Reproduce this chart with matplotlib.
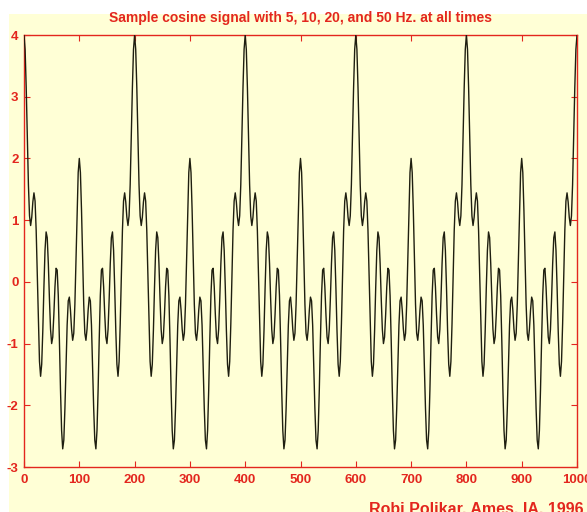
"""
Sample cosine signal (5, 10, 20 and 50 Hz) — MATLAB-style yellow figure.
One 200-sample period is symmetric, so only its first half is listed
(every 2nd sample, read off the chart) and the rest is mirrored/repeated.
"""
import numpy as np
import matplotlib
matplotlib.use("Agg")
import matplotlib.pyplot as plt
from matplotlib.patches import Rectangle

# ── data ───────────────────────────────────────────────────────────────────
STEP = 2                 # sample spacing of the listed values
N_PERIODS = 5            # periods shown on 0..1000
HALF_PERIOD = [          # samples 0, 2, ..., 100
    4.000, 3.768, 3.146, 2.332, 1.572, 1.069, 0.913, 1.046, 1.295, 1.442,
    1.309, 0.837, 0.109, -0.679, -1.289, -1.530, -1.336, -0.789, -0.090, 0.511,
    0.809, 0.717, 0.296, -0.276, -0.770, -1.000, -0.895, -0.527, -0.079, 0.220,
    0.191, -0.225, -0.942, -1.752, -2.408, -2.706, -2.564, -2.048, -1.349, -0.704,
    -0.309, -0.247, -0.457, -0.764, -0.947, -0.833, -0.365, 0.367, 1.162, 1.772,
    2.000,
]
X_TICKS = [0, 100, 200, 300, 400, 500, 600, 700, 800, 900, 1000]
Y_TICKS = [-3, -2, -1, 0, 1, 2, 3, 4]
TITLE = "Sample cosine signal with 5, 10, 20, and 50 Hz. at all times"
CREDIT = "Robi Polikar, Ames, IA, 1996"

half = np.array(HALF_PERIOD)
period = np.concatenate([half, half[-2:0:-1]])
signal = np.concatenate([np.tile(period, N_PERIODS), half[:1]])
samples = np.arange(len(signal)) * STEP

# ── colours ────────────────────────────────────────────────────────────────
BG = "#FFFFD6"
RED = "#E3261E"
LINE = "#1E1E10"

# ── figure ────────────────────────────────────────────────────────────────
fig = plt.figure(figsize=(5.87, 5.12), dpi=100, facecolor="white")
fig.patches.append(Rectangle((9 / 587, 0), 1, (512 - 14) / 512,
                             transform=fig.transFigure, facecolor=BG,
                             edgecolor="none", zorder=-10))
ax = fig.add_axes([24 / 587, 45 / 512, 553 / 587, 432 / 512])
ax.set_facecolor(BG)
ax.set_zorder(1)

ax.plot(samples, signal, color=LINE, lw=1.0, zorder=3)

ax.set_xlim(0, 1000)
ax.set_ylim(-3, 4)
ax.set_xticks(X_TICKS)
ax.set_yticks(Y_TICKS)

font = dict(family="Liberation Sans", weight="bold", color=RED)
ax.set_xticklabels([str(t) for t in X_TICKS], fontsize=9.5, **font)
ax.set_yticklabels([str(t) for t in Y_TICKS], fontsize=9.5, **font)
ax.tick_params(direction="in", length=4, width=0.8, color=RED,
               top=True, right=True)
ax.tick_params(axis="x", pad=5)
ax.tick_params(axis="y", pad=4)
for sp in ax.spines.values():
    sp.set_color(RED)
    sp.set_linewidth(1.0)

fig.text(300.5 / 587, 1 - 18 / 512, TITLE, ha="center", va="center",
         fontsize=10, **font)
fig.text(369 / 587, 1 - 501 / 512, CREDIT, ha="left", va="top",
         fontsize=11.5, **font)

fig.savefig("out.png", dpi=100, facecolor="white")
